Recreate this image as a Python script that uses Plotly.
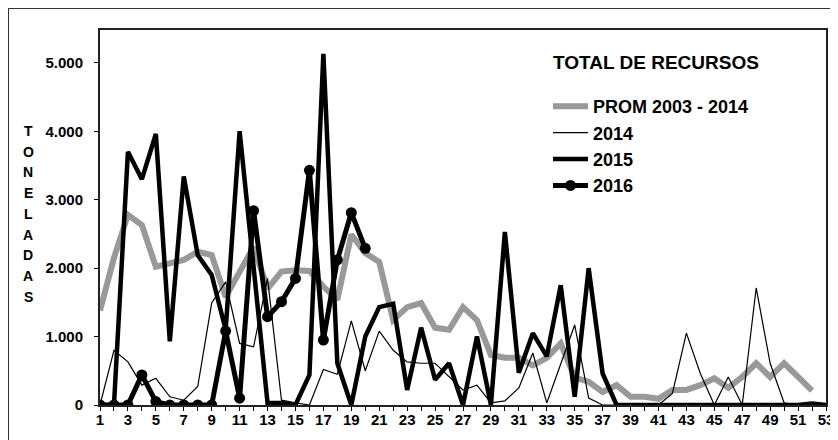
import plotly.graph_objects as go

weeks = list(range(1, 54))

prom = [1380, 2150, 2780, 2630, 2020, 2075, 2120, 2240, 2190, 1580,
        1950, 2310, 1700, 1950, 1970, 1960, 1730, 1540, 2490, 2220,
        2090, 1240, 1430, 1490, 1130, 1100, 1430, 1240, 730, 690,
        690, 580, 690, 900, 400, 340, 190, 290, 120, 120,
        90, 220, 220, 290, 390, 250, 410, 610, 410, 610,
        410, 210]

y2014 = [0, 800, 630, 290, 390, 120, 70, 270, 1490, 1800,
         900, 850, 1850, 70, 30, 0, 520, 450, 1230, 500,
         1080, 800, 630, 610, 610, 410, 220, 290, 30, 60,
         250, 760, 30, 600, 1170, 100, 0, 0, 0, 0,
         0, 170, 1050, 460, 0, 410, 0, 1710, 610, 30,
         0, 30, 0]

y2015 = [0, 0, 3700, 3300, 3960, 930, 3340, 2190, 1900, 1100,
         4000, 2000, 30, 30, 0, 440, 5130, 610, 0, 1000,
         1430, 1480, 220, 1130, 370, 610, 0, 1000, 0, 2530,
         470, 1050, 710, 1750, 120, 2000, 460, 0, 0, 0,
         0, 0, 0, 0, 0, 0, 0, 0, 0, 0,
         0, 20, 0]

y2016 = [0, 0, 0, 440, 50, 0, 0, 0, 0, 1080,
         100, 2840, 1290, 1510, 1850, 3430, 950, 2120, 2810, 2290]

series_names = ["PROM 2003 - 2014", "2014", "2015", "2016"]
legend_title = "TOTAL DE RECURSOS"
y_title = "TONELADAS"
y_ticks = [0, 1000, 2000, 3000, 4000, 5000]
y_ticktext = ["0", "1.000", "2.000", "3.000", "4.000", "5.000"]
x_ticktext = [str(w) if w % 2 == 1 else "" for w in weeks]

# page offset (browser body margin)
OFF = 8
W, H = 838, 440
# plot area in page pixels
P_L, P_R, P_T, P_B = 100, 826, 30, 405
ML, MR, MT, MB = P_L - OFF, W - (P_R - OFF), P_T - OFF, H - (P_B - OFF)
PW, PH = P_R - P_L, P_B - P_T


def px_x(page_x):
    return (page_x - P_L) / PW


def px_y(page_y):
    return (P_B - page_y) / PH


fig = go.Figure()
fig.add_trace(go.Scatter(x=weeks[:len(prom)], y=prom, mode="lines", name=series_names[0],
                         line=dict(color="#999999", width=6), legendgroup="a"))
fig.add_trace(go.Scatter(x=weeks, y=y2014, mode="lines", name=series_names[1],
                         line=dict(color="black", width=1.2), legendgroup="b"))
fig.add_trace(go.Scatter(x=weeks, y=y2015, mode="lines", name=series_names[2],
                         line=dict(color="black", width=4.5), legendgroup="c"))
fig.add_trace(go.Scatter(x=weeks[:len(y2016)], y=y2016, mode="lines+markers", name=series_names[3],
                         line=dict(color="black", width=5),
                         marker=dict(color="black", size=11), legendgroup="d"))

font_family = "Liberation Sans, Arial, sans-serif"

annotations = []
letter_top = 131
letter_step = 20.7
for i, ch in enumerate(y_title):
    py = letter_top + i * letter_step
    annotations.append(dict(x=px_x(28), y=px_y(py), xref="paper", yref="paper",
                            text="<b>" + ch + "</b>", showarrow=False, xanchor="center", yanchor="middle",
                            font=dict(family=font_family, size=14, color="black")))
annotations.append(dict(x=px_x(551), y=px_y(62), xref="paper", yref="paper",
                        text="<b>" + legend_title + "</b>", showarrow=False,
                        xanchor="left", yanchor="middle",
                        font=dict(family=font_family, size=19, color="black")))

shapes = [dict(type="rect", xref="paper", yref="paper",
               x0=px_x(8), y0=px_y(470), x1=px_x(870), y1=px_y(8),
               line=dict(color="#333333", width=2), fillcolor="rgba(0,0,0,0)", layer="below")]

fig.update_layout(
    width=W, height=H,
    margin=dict(l=ML, r=MR, t=MT, b=MB, autoexpand=False),
    paper_bgcolor="white", plot_bgcolor="white",
    font=dict(family=font_family, size=14, color="black"),
    showlegend=True,
    legend=dict(x=px_x(548), y=px_y(88), xanchor="left", yanchor="top",
                font=dict(size=18, family=font_family, color="black", weight="bold"),
                bgcolor="rgba(0,0,0,0)", tracegroupgap=0, itemwidth=35),
    annotations=annotations,
    shapes=shapes,
)
fig.update_xaxes(range=[1, 53], tickmode="array", tickvals=weeks, ticktext=x_ticktext,
                 ticks="outside", ticklen=4, tickcolor="black", tickwidth=1,
                 showline=True, linecolor="#222222", linewidth=2, mirror=True,
                 showgrid=False, zeroline=False, automargin=False, ticklabelstandoff=-4,
                 tickfont=dict(family=font_family, size=15, color="black", weight="bold"))
fig.update_yaxes(range=[0, 5480], tickmode="array", tickvals=y_ticks, ticktext=y_ticktext,
                 ticks="outside", ticklen=4, tickcolor="black", tickwidth=1,
                 showline=True, linecolor="#222222", linewidth=2, mirror=True,
                 showgrid=False, zeroline=False, ticklabelstandoff=8, automargin=False,
                 tickfont=dict(family=font_family, size=15, color="black", weight="bold"))

fig.write_html("out.html")
